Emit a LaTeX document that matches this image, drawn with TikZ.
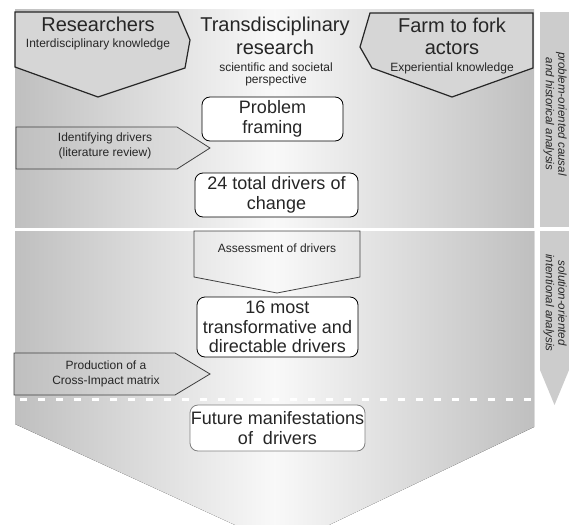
\documentclass[tikz,border=0pt]{standalone}
\usepackage{fontspec}
\setmainfont{Liberation Sans}
\newcommand{\headfont}{\fontsize{20}{23}\selectfont}
\newcommand{\boxfont}{\fontsize{18}{19.5}\selectfont}
\newcommand{\notefont}{\fontsize{12}{15}\selectfont}
\newcommand{\barfont}{\fontsize{11.5}{12.5}\selectfont\itshape}
\tikzstyle{panel}=[left color=gray!50,right color=gray!50,middle color=gray!5]
\tikzstyle{actor}=[draw=black!85,fill=gray!32,line width=1.2pt]
\tikzstyle{task}=[draw=black!75,left color=gray!50,right color=gray!22,line width=0.8pt]
\tikzstyle{stage}=[draw,fill=white,rounded corners=8pt,line width=0.8pt,inner sep=0pt,align=center,font=\boxfont]
\tikzstyle{phase}=[fill=gray!40]
\tikzstyle{cut}=[white,line width=3pt,dash pattern=on 7pt off 11pt]

\begin{document}
\begin{tikzpicture}[x=1pt,y=-1pt,every node/.style={text=black!85}]
  \useasboundingbox (0,0) rectangle (569,524);
  \clip (0,0) rectangle (569,524);
  % the two phases as one big downward arrow
  \fill[panel] (15,10) rectangle (534,227);
  \fill[panel] (15,231) -- (534,231) -- (534,427) -- (283,547) -- (15,424) -- cycle;
  \draw[cut] (20,399) -- (534,399);
  % side bars
  \fill[phase] (540,12) rectangle (569,227);
  \fill[phase] (540,231) -- (569,231) -- (569,370) -- (554.5,405) -- (540,370) -- cycle;
  \node[rotate=-90,align=center,font=\barfont] (causal) at (555,114) {problem-oriented causal\\and historical analysis};
  \node[rotate=-90,align=center,font=\barfont] (intent) at (555,303) {solution-oriented\\intentional analysis};
  % actors
  \draw[actor] (15,12) -- (178,12) -- (190,40) -- (185,68) -- (98,97) -- (15,67) -- cycle;
  \draw[actor] (370,13) -- (533,13) -- (533,68) -- (452,97) -- (372,68) -- (360,47) -- cycle;
  \node[anchor=base,font=\headfont] (res) at (98,32) {Researchers};
  \node[anchor=base,font=\notefont] (resknow) at (98,48) {Interdisciplinary knowledge};
  \node[anchor=base,font=\headfont] (td1) at (275,32) {Transdisciplinary};
  \node[anchor=base,font=\headfont] (td2) at (275,55) {research};
  \node[anchor=base,font=\notefont] (td3) at (276,72) {scientific and societal};
  \node[anchor=base,font=\notefont] (td4) at (276,84) {perspective};
  \node[anchor=base,font=\headfont] (farm1) at (452,33) {Farm to fork};
  \node[anchor=base,font=\headfont] (farm2) at (452,55) {actors};
  \node[anchor=base,font=\notefont] (farmknow) at (452,72) {Experiential knowledge};
  % steps
  \node[stage,minimum width=141,minimum height=44] (frame) at (272.5,119) {Problem\\framing};
  \node[stage,minimum width=163,minimum height=44] (total) at (276.5,195) {24 total drivers of\\change};
  \draw[draw=black!75,line width=0.8pt] (194,231) -- (360,231) -- (360,277) -- (277,293) -- (194,277) -- cycle;
  \node[anchor=base,font=\notefont] (assess) at (277,252) {Assessment of drivers};
  \node[stage,minimum width=161,minimum height=60] (most) at (277.5,327) {16 most\\transformative and\\directable drivers};
  \node[stage,draw=black!50,minimum width=175,minimum height=46] (future) at (277.5,428) {Future manifestations\\of\ \ drivers};
  % methods
  \draw[task] (16,127) -- (177,127) -- (210,148) -- (177,169) -- (16,169) -- cycle;
  \node[align=center,font=\notefont] (ident) at (105,146) {Identifying drivers\\(literature review)};
  \draw[task] (14,353) -- (175,353) -- (210,374) -- (175,395) -- (14,395) -- cycle;
  \node[align=center,font=\notefont] (cim) at (106,374) {Production of a\\Cross-Impact matrix};
\end{tikzpicture}
\end{document}
